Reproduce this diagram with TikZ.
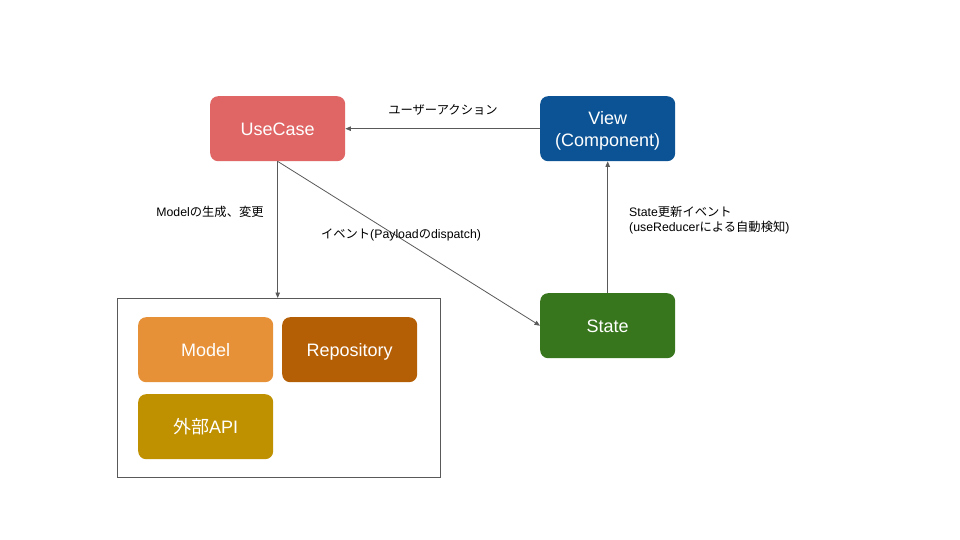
\documentclass[tikz,border=0pt]{standalone}
\usepackage{fontspec}
\setmainfont{Liberation Sans}
\newfontfamily\jp{Noto Sans CJK JP}
\usetikzlibrary{arrows.meta}
\definecolor{cUse}{HTML}{E06666}
\definecolor{cView}{HTML}{0B5394}
\definecolor{cState}{HTML}{38761D}
\definecolor{cModel}{HTML}{E69138}
\definecolor{cRepo}{HTML}{B45F06}
\definecolor{cApi}{HTML}{BF9000}
\definecolor{cLine}{HTML}{595959}
\tikzset{
  box/.style={rounded corners=8pt, minimum width=135pt, minimum height=65pt, inner sep=0pt, text=white, font=\fontsize{18}{22}\selectfont, align=center, anchor=north west, text height=14pt, text depth=0pt},
  conn/.style={draw=cLine, line width=0.8pt, -{Triangle[length=5.5pt,width=4.5pt]}},
  lbl/.style={font=\fontsize{12.3}{15}\selectfont, inner sep=0pt, text=black}
}
\begin{document}
\begin{tikzpicture}[x=1pt,y=-1pt]
\useasboundingbox (0,0) rectangle (960,540);
\node[box, fill=cUse] (uc) at (210,96) {UseCase};
\node[box, fill=cView, text height=35pt, text depth=0pt] (view) at (540,96) {View\\(Component)};
\node[box, fill=cState] (state) at (540,293) {State};
\node[draw=cLine, line width=0.9pt, minimum width=323pt, minimum height=179pt, inner sep=0pt, anchor=north west] (cont) at (117,298) {};
\node[box, fill=cModel] (model) at (138,317) {Model};
\node[box, fill=cRepo] (repo) at (282,317) {Repository};
\node[box, fill=cApi] (api) at (138,394) {{\jp 外部}API};
\draw[conn] (view.west) -- (uc.east);
\draw[conn] (uc.south) -- (uc.south |- cont.north);
\draw[conn] (uc.south) -- (state.west);
\draw[conn] (state.north) -- (view.south);
\node[lbl] (l1) at (443,110) {{\jp ユーザーアクション}};
\node[lbl] (l2) at (210,212) {Model{\jp の生成、変更}};
\node[lbl] (l3) at (401,235) {{\jp イベント}(Payload{\jp の}dispatch)};
\node[lbl, anchor=west, align=left] (l4) at (629,220) {State{\jp 更新イベント}\\(useReducer{\jp による自動検知})};
\end{tikzpicture}
\end{document}
